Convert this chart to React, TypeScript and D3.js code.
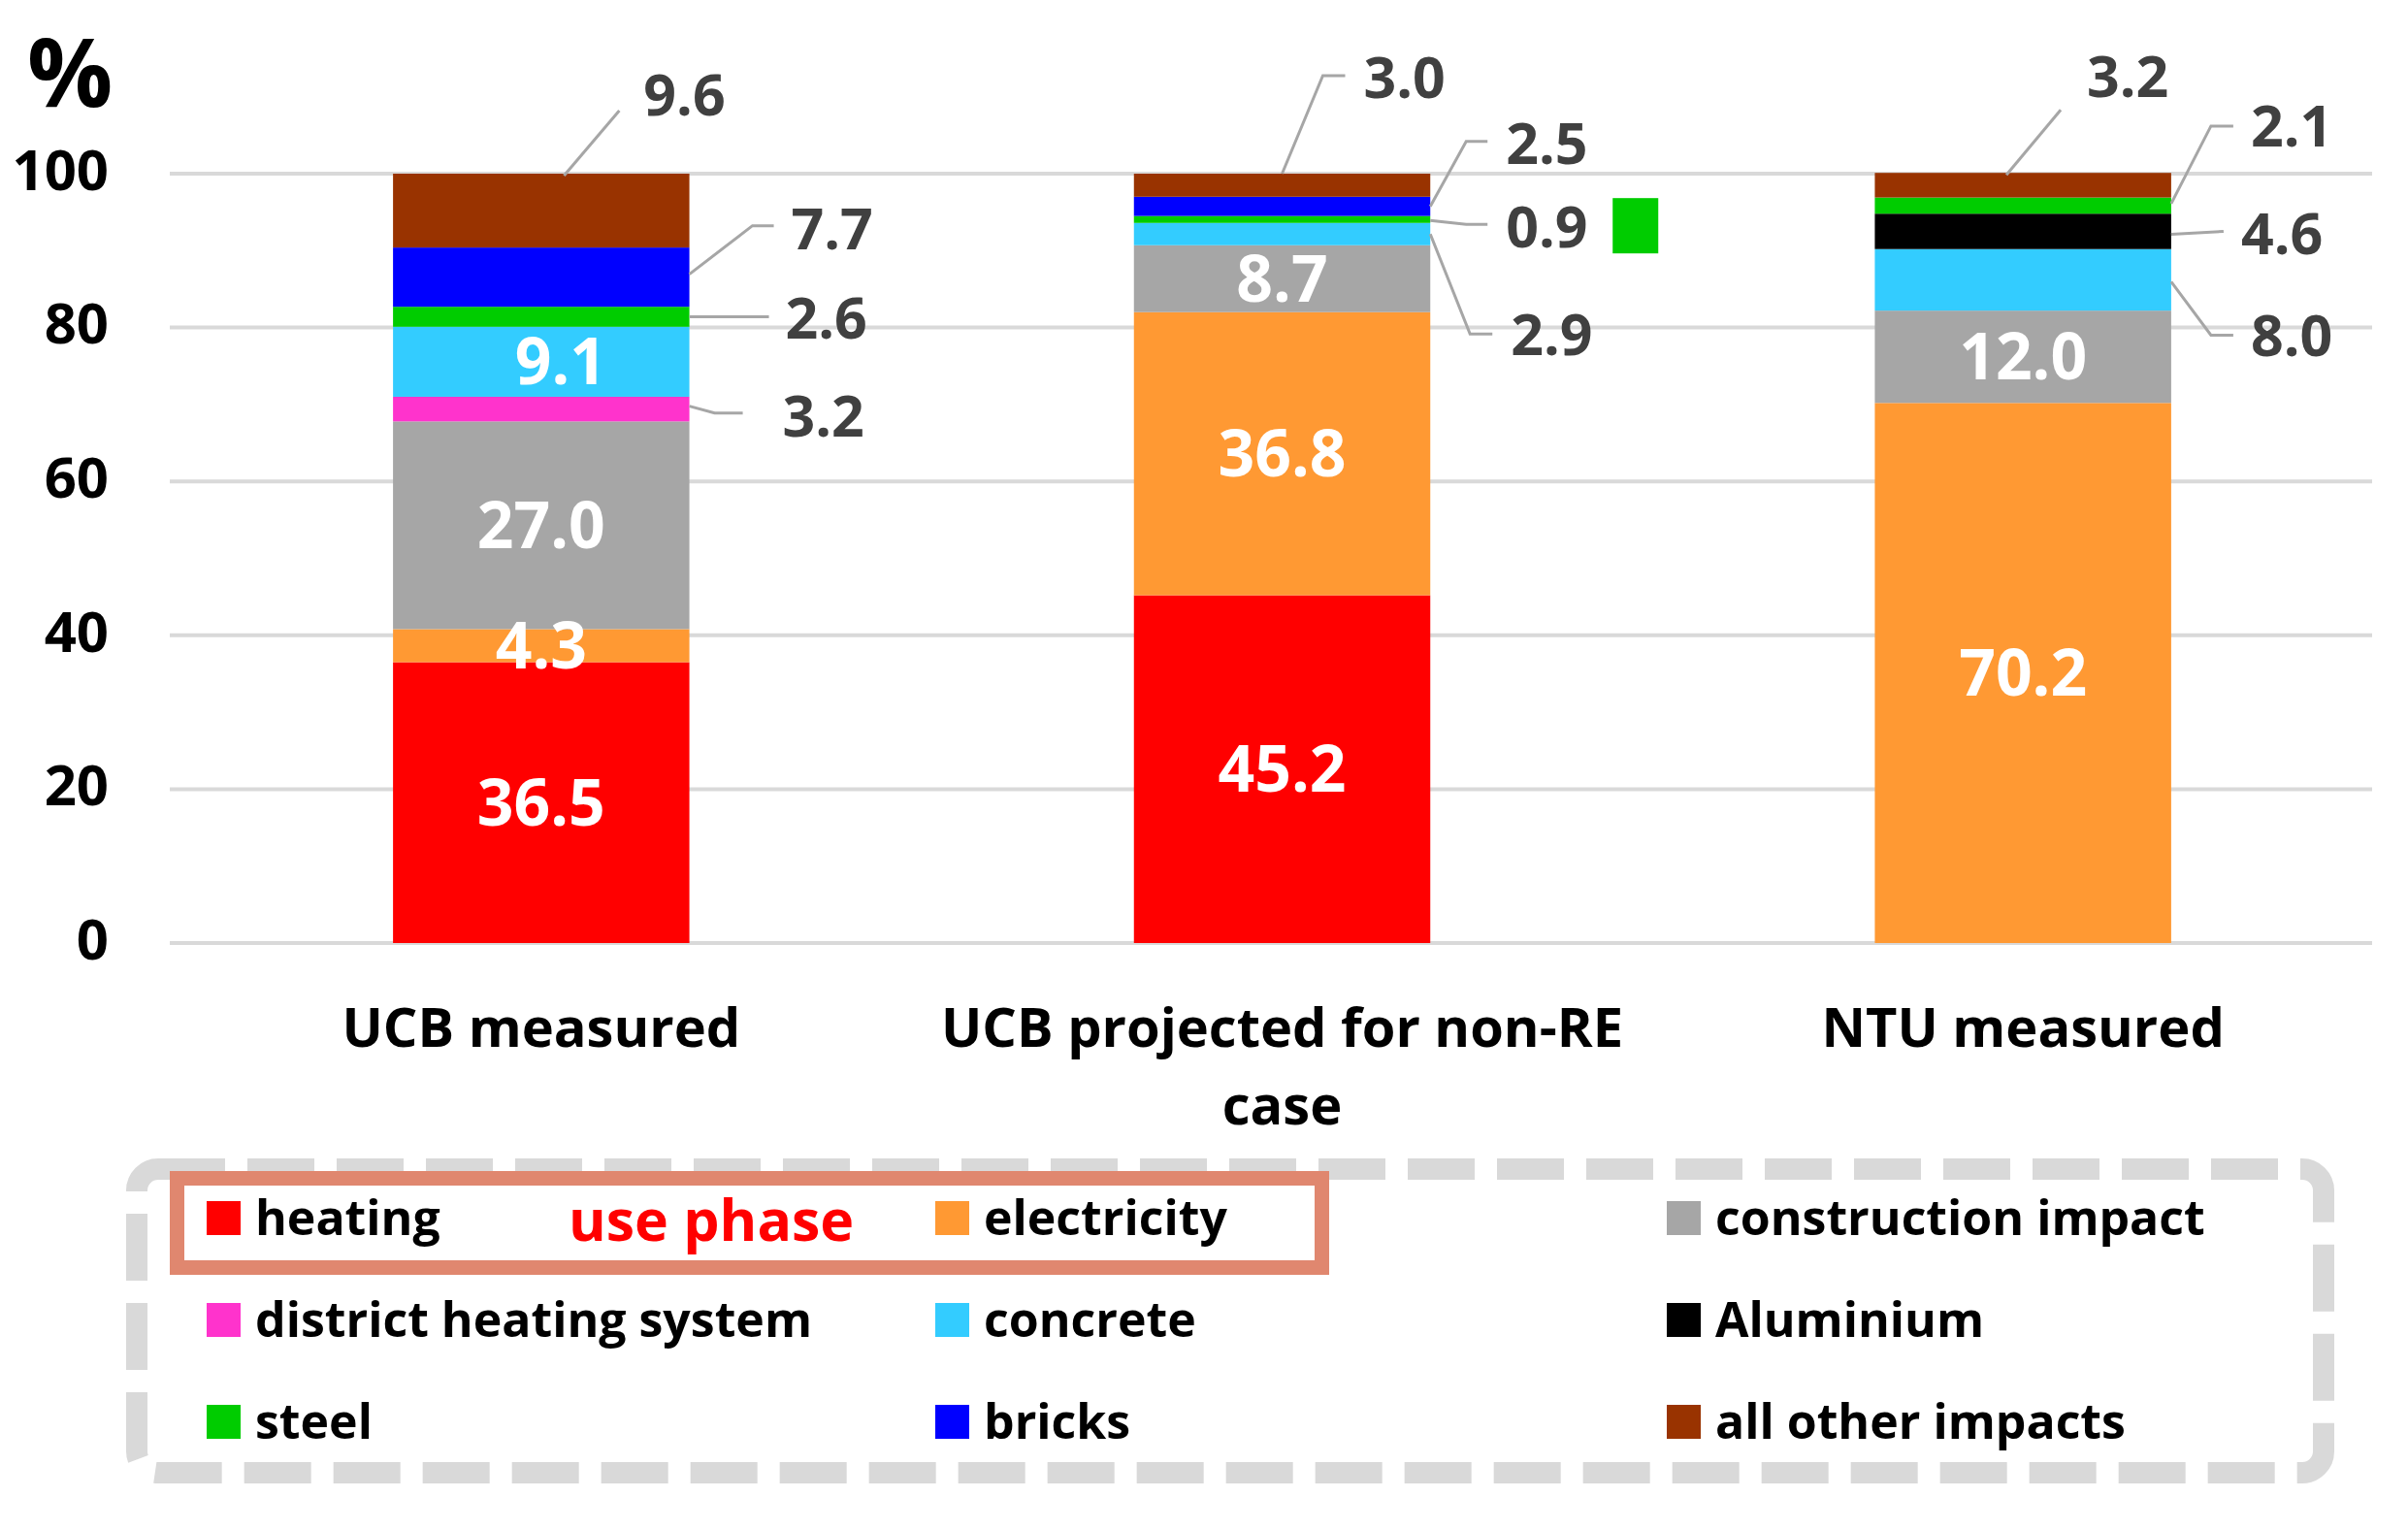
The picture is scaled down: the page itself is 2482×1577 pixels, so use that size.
import * as d3 from "d3";

// ---- data ----
const categories = ["UCB measured", "UCB projected for non-RE case", "NTU measured"];
const heating = [36.5, 45.2, 0];
const electricity = [4.3, 36.8, 70.2];
const construction = [27.0, 8.7, 12.0];
const districtHeating = [3.2, 0, 0];
const concrete = [9.1, 2.9, 8.0];
const aluminium = [0, 0, 4.6];
const steel = [2.6, 0.9, 2.1];
const bricks = [7.7, 2.5, 0];
const otherImpacts = [9.6, 3.0, 3.2];
const yTicks = [0, 20, 40, 60, 80, 100];

const series = [
  { key: "heating", name: "heating", color: "#FF0000", values: heating },
  { key: "electricity", name: "electricity", color: "#FF9933", values: electricity },
  { key: "construction", name: "construction impact", color: "#A6A6A6", values: construction },
  { key: "district", name: "district heating system", color: "#FF33CC", values: districtHeating },
  { key: "concrete", name: "concrete", color: "#33CCFF", values: concrete },
  { key: "aluminium", name: "Aluminium", color: "#000000", values: aluminium },
  { key: "steel", name: "steel", color: "#00CC00", values: steel },
  { key: "bricks", name: "bricks", color: "#0000FF", values: bricks },
  { key: "other", name: "all other impacts", color: "#993300", values: otherImpacts },
];

// labels drawn inside the bars
const insideLabels = [
  { cat: 0, key: "heating" }, { cat: 0, key: "electricity" }, { cat: 0, key: "construction" },
  { cat: 0, key: "concrete", dx: 20 },
  { cat: 1, key: "heating" }, { cat: 1, key: "electricity" }, { cat: 1, key: "construction" },
  { cat: 2, key: "electricity" }, { cat: 2, key: "construction" },
];

// callout labels with leader lines (offsets in px)
const callouts = [
  { cat: 0, key: "other", from: "top", fx: 0.577, sdy: 2, ex: 57, ey: -67, h: 0, gap: 25, ty: -16 },
  { cat: 0, key: "bricks", from: "right", sdy: -3, ex: 65, ey: -50, h: 22, gap: 18, ty: 3 },
  { cat: 0, key: "steel", from: "right", sdy: 0, ex: 0, ey: 0, h: 82, gap: 17, ty: 1 },
  { cat: 0, key: "district", from: "right", sdy: -3, ex: 26, ey: 7, h: 29, gap: 41, ty: 3 },
  { cat: 1, key: "other", from: "top", fx: 0.5, sdy: 0, ex: 42, ey: -101, h: 23, gap: 19, ty: 2 },
  { cat: 1, key: "bricks", from: "right", sdy: 0, ex: 37, ey: -67, h: 22, gap: 19, ty: 2 },
  { cat: 1, key: "steel", from: "right", sdy: 1, ex: 37, ey: 4, h: 22, gap: 19, ty: 3, swatch: true },
  { cat: 1, key: "concrete", from: "right", sdy: 0, ex: 41, ey: 103, h: 23, gap: 19, ty: 1 },
  { cat: 2, key: "other", from: "top", fx: 0.444, sdy: 2, ex: 56, ey: -67, h: 0, gap: 27, ty: -34 },
  { cat: 2, key: "steel", from: "right", sdy: -2, ex: 41, ey: -80, h: 23, gap: 18, ty: 0 },
  { cat: 2, key: "aluminium", from: "right", sdy: 3, ex: 54, ey: -3, h: 0, gap: 18, ty: 2 },
  { cat: 2, key: "concrete", from: "right", sdy: 2, ex: 41, ey: 55, h: 23, gap: 18, ty: 1 },
];

const legendRows = [
  ["heating", "electricity", "construction"],
  ["district", "concrete", "aluminium"],
  ["steel", "bricks", "other"],
];

const W = 2482;
const H = 1577;
const FONT = "'Open Sans', 'DejaVu Sans', sans-serif";

export default function App() {
  const x = d3.scaleBand<string>().domain(categories).range([176, 2467]).paddingInner(0.6).paddingOuter(0.3);
  const y = d3.scaleLinear().domain([0, 100]).range([972, 179]);
  const bw = x.bandwidth();

  const table = categories.map((c, i) => {
    const row: Record<string, number | string> = { cat: c };
    series.forEach(s => (row[s.key] = s.values[i]));
    return row;
  });
  const stacked = d3.stack<Record<string, number | string>>().keys(series.map(s => s.key))(table as any);
  const seg = (cat: number, key: string) => {
    const layer = stacked.find(l => l.key === key)!;
    return layer[cat];
  };
  const color = (key: string) => series.find(s => s.key === key)!.color;
  const value = (cat: number, key: string) => series.find(s => s.key === key)!.values[cat];

  const fmt = d3.format(".1f");
  const legendColX = [213, 964, 1718];
  const legendRowY = [1238, 1343, 1448];

  return (
    <div style={{ position: "absolute", left: 0, top: 0 }}>
      <svg width={W} height={H} style={{ display: "block", background: "#fff" }} fontFamily={FONT}>
        {/* gridlines */}
        {yTicks.map(t => (
          <line key={t} x1={175} x2={2445} y1={y(t)} y2={y(t)} stroke="#D9D9D9" strokeWidth={4} />
        ))}
        {/* y tick labels */}
        {yTicks.map(t => (
          <text key={t} x={112} y={y(t) - 4 + 0.357 * 58} textAnchor="end" fontSize={58} fontWeight={700} fill="#000">
            {t}
          </text>
        ))}
        <text x={28} y={110} fontSize={98} fontWeight={700} fill="#000">%</text>

        {/* bars */}
        {stacked.map(layer => (
          <g key={layer.key} fill={color(layer.key)}>
            {layer.map((d, i) =>
              d[1] - d[0] > 0 ? (
                <rect key={i} x={x(categories[i])} width={bw} y={y(d[1])} height={y(d[0]) - y(d[1])} />
              ) : null
            )}
          </g>
        ))}

        {/* inside labels */}
        {insideLabels.map((l, i) => {
          const d = seg(l.cat, l.key);
          const cx = x(categories[l.cat])! + bw / 2 + (l.dx || 0);
          const cy = y((d[0] + d[1]) / 2);
          return (
            <text key={i} x={cx} y={cy + 0.357 * 66} textAnchor="middle" fontSize={66} fontWeight={700} fill="#fff">
              {fmt(value(l.cat, l.key))}
            </text>
          );
        })}

        {/* callouts */}
        {callouts.map((c, i) => {
          const d = seg(c.cat, c.key);
          const x0 = x(categories[c.cat])!;
          let sx: number, sy: number;
          if (c.from === "top") {
            sx = x0 + bw * (c.fx || 0.5);
            sy = y(d[1]) + c.sdy;
          } else {
            sx = x0 + bw;
            sy = y((d[0] + d[1]) / 2) + c.sdy;
          }
          const exx = sx + c.ex;
          const eyy = sy + c.ey;
          const hx = exx + c.h;
          const path = d3.path();
          path.moveTo(sx, sy);
          path.lineTo(exx, eyy);
          path.lineTo(hx, eyy);
          const tx = hx + c.gap;
          const ty = eyy + c.ty;
          return (
            <g key={i}>
              <path d={path.toString()} fill="none" stroke="#A6A6A6" strokeWidth={3} />
              <text x={tx} y={ty + 0.357 * 59} fontSize={59} fontWeight={700} fill="#404040">
                {fmt(value(c.cat, c.key))}
              </text>
              {c.swatch ? <rect x={tx + 110} y={ty - 30} width={47} height={57} fill={color(c.key)} /> : null}
            </g>
          );
        })}

        {/* category labels */}
        {categories.map((c, i) => {
          const lines = i === 1 ? ["UCB projected for non-RE", "case"] : [c];
          return (
            <text key={c} textAnchor="middle" fontSize={56} fontWeight={700} fill="#000">
              {lines.map((ln, j) => (
                <tspan key={j} x={x(c)! + bw / 2} y={1079 + j * 80}>{ln}</tspan>
              ))}
            </text>
          );
        })}

        {/* legend */}
        <rect x={141} y={1205} width={2254} height={313} rx={22} fill="none" stroke="#D9D9D9" strokeWidth={22} strokeDasharray="69 23" />
        <rect x={182.5} y={1214.5} width={1180} height={92} fill="none" stroke="#E0876F" strokeWidth={15} />
        <text x={586} y={1279} fontSize={59} fontWeight={700} fill="#FF0000">use phase</text>
        {legendRows.map((row, r) =>
          row.map((key, cI) => {
            const s = series.find(s => s.key === key)!;
            return (
              <g key={key}>
                <rect x={legendColX[cI]} y={legendRowY[r]} width={35} height={35} fill={s.color} />
                <text x={legendColX[cI] + 50} y={legendRowY[r] + 35} fontSize={50} fontWeight={700} fill="#000">
                  {s.name}
                </text>
              </g>
            );
          })
        )}
      </svg>
    </div>
  );
}
